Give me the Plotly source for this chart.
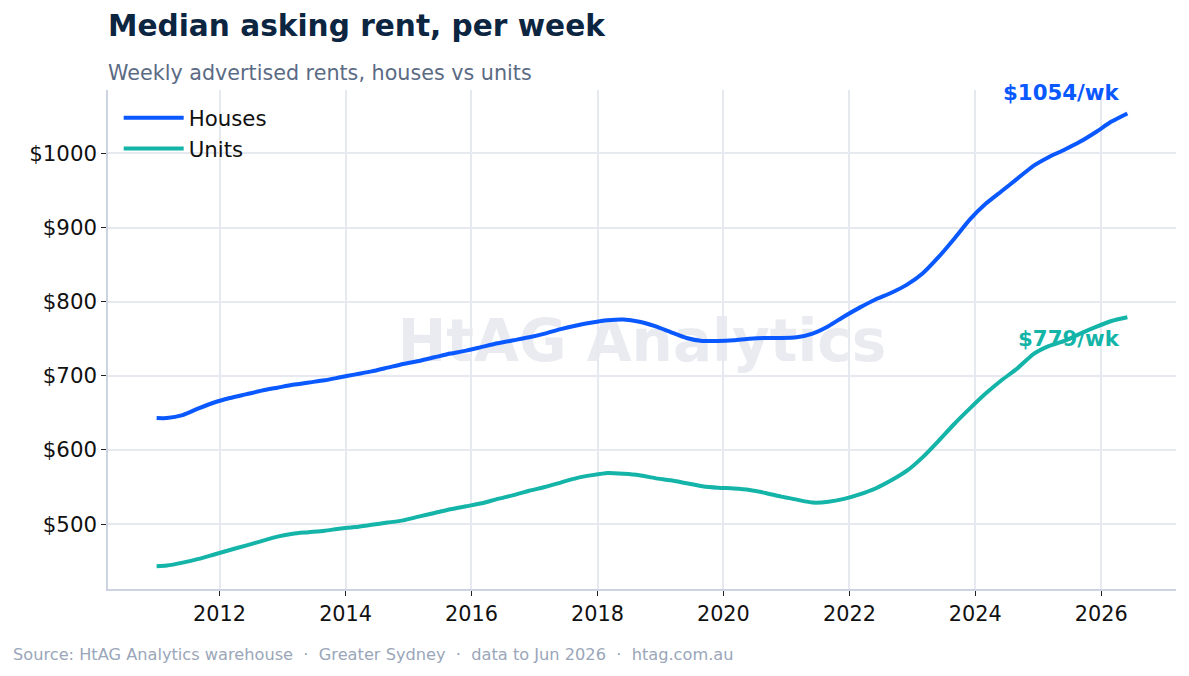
import plotly.graph_objects as go

# ---------------- data ----------------
months = [
    "2011-01", "2011-03", "2011-06", "2011-09", "2011-12",
    "2012-03", "2012-06", "2012-09", "2012-12",
    "2013-03", "2013-06", "2013-09", "2013-12",
    "2014-03", "2014-06", "2014-09", "2014-12",
    "2015-03", "2015-06", "2015-09", "2015-12",
    "2016-03", "2016-06", "2016-09", "2016-12",
    "2017-03", "2017-06", "2017-09", "2017-12",
    "2018-03", "2018-06", "2018-09", "2018-12",
    "2019-03", "2019-06", "2019-09", "2019-12",
    "2020-03", "2020-06", "2020-09", "2020-12",
    "2021-03", "2021-06", "2021-09", "2021-12",
    "2022-03", "2022-06", "2022-09", "2022-12",
    "2023-03", "2023-06", "2023-09", "2023-12",
    "2024-03", "2024-06", "2024-09", "2024-12",
    "2025-03", "2025-06", "2025-09", "2025-12",
    "2026-03", "2026-06",
]

houses = [
    643, 643, 647, 656, 664,
    670, 675, 680, 684,
    688, 691, 694, 698,
    702, 706, 711, 716,
    720, 725, 730, 734,
    739, 744, 748, 752,
    757, 763, 768, 772,
    775, 776, 773, 767,
    759, 751, 747, 747,
    748, 750, 751, 751,
    752, 757, 767, 780,
    792, 803, 812, 823,
    838, 860, 885, 911,
    932, 949, 966, 983,
    995, 1005, 1016, 1029,
    1043, 1054,
]

units = [
    443, 444, 448, 453, 459,
    465, 471, 477, 483,
    487, 489, 491, 494,
    496, 499, 502, 505,
    510, 515, 520, 524,
    528, 534, 539, 545,
    550, 556, 562, 566,
    569, 568, 566, 562,
    559, 555, 551, 549,
    548, 546, 542, 537,
    533, 529, 530, 534,
    540, 548, 559, 572,
    590, 612, 635, 656,
    676, 694, 710, 729,
    740, 747, 757, 766,
    774, 779,
]

series_names = ["Houses", "Units"]
series_colors = ["#0a58ff", "#14b4a8"]

FONT = "DejaVu Sans"

fig = go.Figure()

for name, vals, col in zip(series_names, [houses, units], series_colors):
    fig.add_trace(go.Scatter(
        x=months, y=vals, mode="lines", name=name,
        line=dict(color=col, width=4, shape="spline", smoothing=0.6),
        hoverinfo="skip",
    ))

# end-of-line labels
fig.add_annotation(
    x=months[-1], y=houses[-1], text=f"<b>${houses[-1]}/wk</b>",
    showarrow=False, xanchor="right", yanchor="middle",
    xshift=-5, yshift=21,
    font=dict(family=FONT, size=21.3, color=series_colors[0]),
)
fig.add_annotation(
    x=months[-1], y=units[-1], text=f"<b>${units[-1]}/wk</b>",
    showarrow=False, xanchor="right", yanchor="middle",
    xshift=-5, yshift=-21,
    font=dict(family=FONT, size=21.3, color=series_colors[1]),
)

# title / subtitle / footer
fig.add_annotation(
    xref="paper", yref="paper", x=-0.002, y=1.128, xanchor="left", yanchor="middle",
    text="<b>Median asking rent, per week</b>", showarrow=False,
    font=dict(family=FONT, size=29.6, color="#0c2541"),
)
fig.add_annotation(
    xref="paper", yref="paper", x=-0.002, y=1.034, xanchor="left", yanchor="middle",
    text="Weekly advertised rents, houses vs units", showarrow=False,
    font=dict(family=FONT, size=20.7, color="#5b6b84"),
)
fig.add_annotation(
    xref="paper", yref="paper", x=-0.091, y=-0.132, xanchor="left", yanchor="middle",
    text="Source: HtAG Analytics warehouse  ·  Greater Sydney  ·  data to Jun 2026  ·  htag.com.au",
    showarrow=False,
    font=dict(family=FONT, size=16.2, color="#9aa6b9"),
)

# watermark (below traces)
fig.add_shape(
    type="rect", xref="paper", yref="paper", x0=0.2, x1=0.8, y0=0.40, y1=0.61,
    line=dict(width=0), fillcolor="rgba(0,0,0,0)", layer="between",
    label=dict(text="<b>HtAG Analytics</b>", textposition="middle center",
               font=dict(family=FONT, size=58, color="#e9ebf0")),
)

fig.update_layout(
    width=1189, height=676,
    margin=dict(l=108, r=13, t=90, b=87),
    paper_bgcolor="white", plot_bgcolor="white",
    font=dict(family=FONT, size=20.5, color="#111111"),
    showlegend=True,
    legend=dict(
        x=0.01, y=0.985, xanchor="left", yanchor="top",
        bgcolor="rgba(255,255,255,0)", borderwidth=0,
        font=dict(family=FONT, size=21.3, color="#111111"),
        itemwidth=60,
    ),
)

fig.update_xaxes(
    type="date",
    range=["2010-03-25", "2027-03-10"],
    tick0="2012-01-01", dtick="M24", tickformat="%Y",
    showgrid=True, gridcolor="#e6e9f0", gridwidth=1.5,
    showline=True, linecolor="#cbd4e0", linewidth=1.5, mirror=False,
    ticks="outside", ticklen=5, tickwidth=1, tickcolor="#222222",
    tickfont=dict(family=FONT, size=20.8, color="#111111"),
    zeroline=False,
)
fig.update_yaxes(
    range=[412.4, 1085.6],
    tick0=0, dtick=100, tickprefix="$", tickformat="d",
    showgrid=True, gridcolor="#e6e9f0", gridwidth=1.5,
    showline=True, linecolor="#cbd4e0", linewidth=1.5, mirror=False,
    ticks="outside", ticklen=5, tickwidth=1, tickcolor="#222222",
    tickfont=dict(family=FONT, size=21.3, color="#111111"),
    zeroline=False,
)

fig.write_html("out.html")
